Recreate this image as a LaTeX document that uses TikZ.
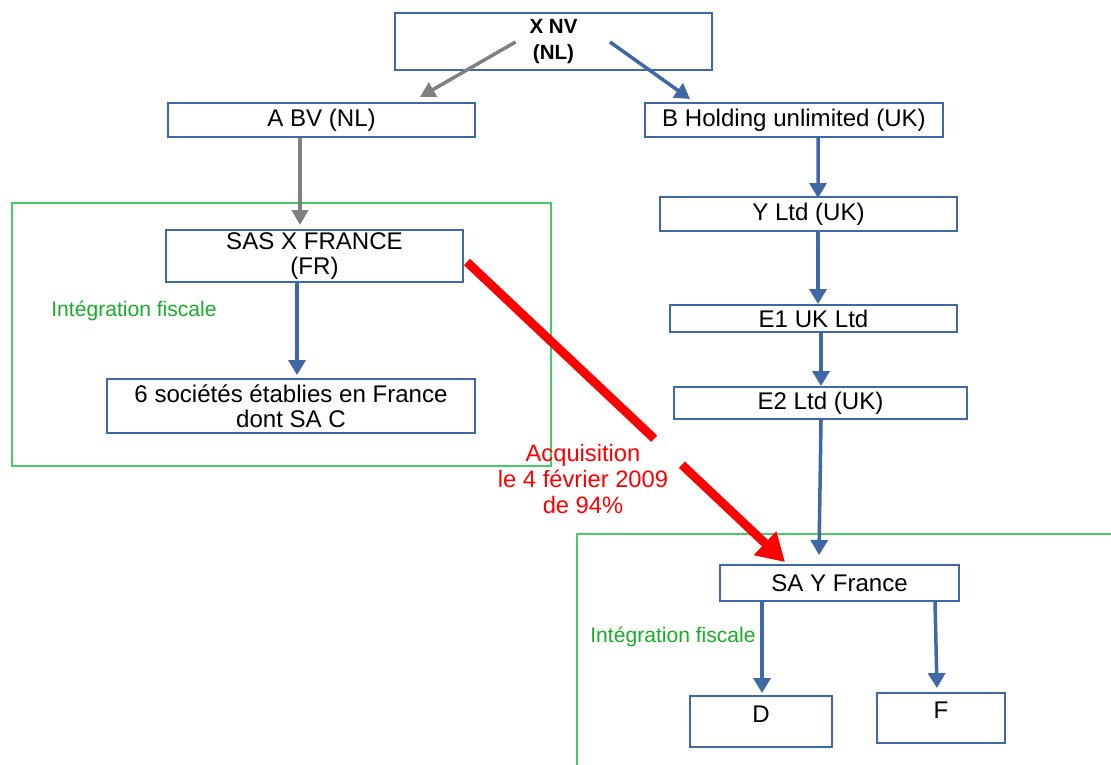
\documentclass[tikz,border=0pt]{standalone}
\usepackage{fontspec}
\setmainfont{Liberation Sans}
\usepackage{tikz}
\usetikzlibrary{positioning,arrows.meta,calc}
\definecolor{boxblue}{RGB}{63,104,167}
\definecolor{fiscline}{RGB}{70,204,100}
\definecolor{fisctext}{RGB}{24,172,40}

\begin{document}
\begin{tikzpicture}[x=0.02cm, y=-0.02cm, every node/.style={font=\fontsize{13.7}{14.5}\selectfont}, s/.style={draw=boxblue, line width=1.1pt, align=center, inner sep=0pt}, own/.style={draw=boxblue, line width=2pt, -{Triangle[length=0.3cm,width=0.34cm]}}, minor/.style={draw=gray, line width=2pt, -{Triangle[length=0.3cm,width=0.32cm]}}, fisc/.style={draw=fiscline, line width=1.1pt}, fisclabel/.style={text=fisctext, font=\fontsize{12}{14}\selectfont}]
\useasboundingbox (0,0) rectangle (1111,764);
\draw[fisc] (12,203) rectangle (551,466);
\draw[fisc] (577,534) rectangle (1120,770);
\node[s, minimum width=6.34cm, minimum height=1.14cm, font=\fontsize{11.7}{14.7}\selectfont\bfseries] (xnv) at (553.5,41.5) {X NV\\(NL)};
\node[s, minimum width=6.14cm, minimum height=0.68cm] (abv) at (321.5,120) {A BV (NL)};
\node[s, minimum width=5.96cm, minimum height=0.68cm] (bh) at (794,120) {B Holding unlimited (UK)};
\node[s, minimum width=5.94cm, minimum height=1.04cm] (sas) at (314.5,256) {SAS X FRANCE\\(FR)};
\node[s, minimum width=7.36cm, minimum height=1.08cm] (six) at (291,406) {6 sociétés établies en France\\dont SA C};
\node[s, minimum width=5.94cm, minimum height=0.68cm] (yltd) at (808.5,214) {Y Ltd (UK)};
\node[s, minimum width=5.74cm, minimum height=0.54cm] (e1) at (813.5,318.5) {E1 UK Ltd};
\node[s, minimum width=5.86cm, minimum height=0.64cm] (e2) at (820.5,403) {E2 Ltd (UK)};
\node[s, minimum width=4.78cm, minimum height=0.72cm] (say) at (839.5,583) {SA Y France};
\node[s, minimum width=2.84cm, minimum height=1.02cm, text depth=8.5pt] (d) at (761,721.5) {D};
\node[s, minimum width=2.56cm, minimum height=1.0cm, text depth=9pt] (f) at (941,718) {F};
\node[fisclabel] (if1) at (134,311) {Intégration fiscale};
\node[fisclabel] (if2) at (673,637) {Intégration fiscale};
\node[text=red, align=center, font=\fontsize{13.5}{15}\selectfont] (acq) at (583,479) {Acquisition\\le 4 février 2009\\de 94\%};
% participations
\draw[minor] ($(xnv.center)+(-38,0.5)$) -- ($(abv.north)+(98.5,-5)$);
\draw[own] ($(xnv.center)+(56.5,0.5)$) -- ($(bh.north)+(-104,-3)$);
\draw[minor] ($(abv.south)+(-21.5,0)$) -- ($(sas.north)+(-14.5,-4)$);
\draw[own] ($(sas.south)+(-17.5,0)$) -- ($(six.north)+(6,-3)$);
\draw[own] ($(bh.south)+(24,0)$) -- ($(yltd.north)+(9.5,2)$);
\draw[own] ($(yltd.south)+(9.5,0)$) -- ($(e1.north)+(4.5,0)$);
\draw[own] ($(e1.south)+(7.5,0)$) -- ($(e2.north)+(0.5,0)$);
\draw[own] ($(e2.south)+(0.5,0)$) -- ($(say.north)+(-20.5,-9)$);
\draw[own] ($(say.south)+(-77.5,0)$) -- ($(d.north)+(1,-2)$);
\draw[own] ($(say.south)+(95.5,0)$) -- ($(f.north)+(-4,-4)$);
% acquisition
\draw[red, line width=5pt, dash pattern=on 5.15cm off 0.76cm on 20cm, -{Triangle[length=0.55cm,width=0.62cm]}] ($(sas.east)+(3,6)$) -- ($(say.north)+(-54.5,-2)$);
\end{tikzpicture}
\end{document}
